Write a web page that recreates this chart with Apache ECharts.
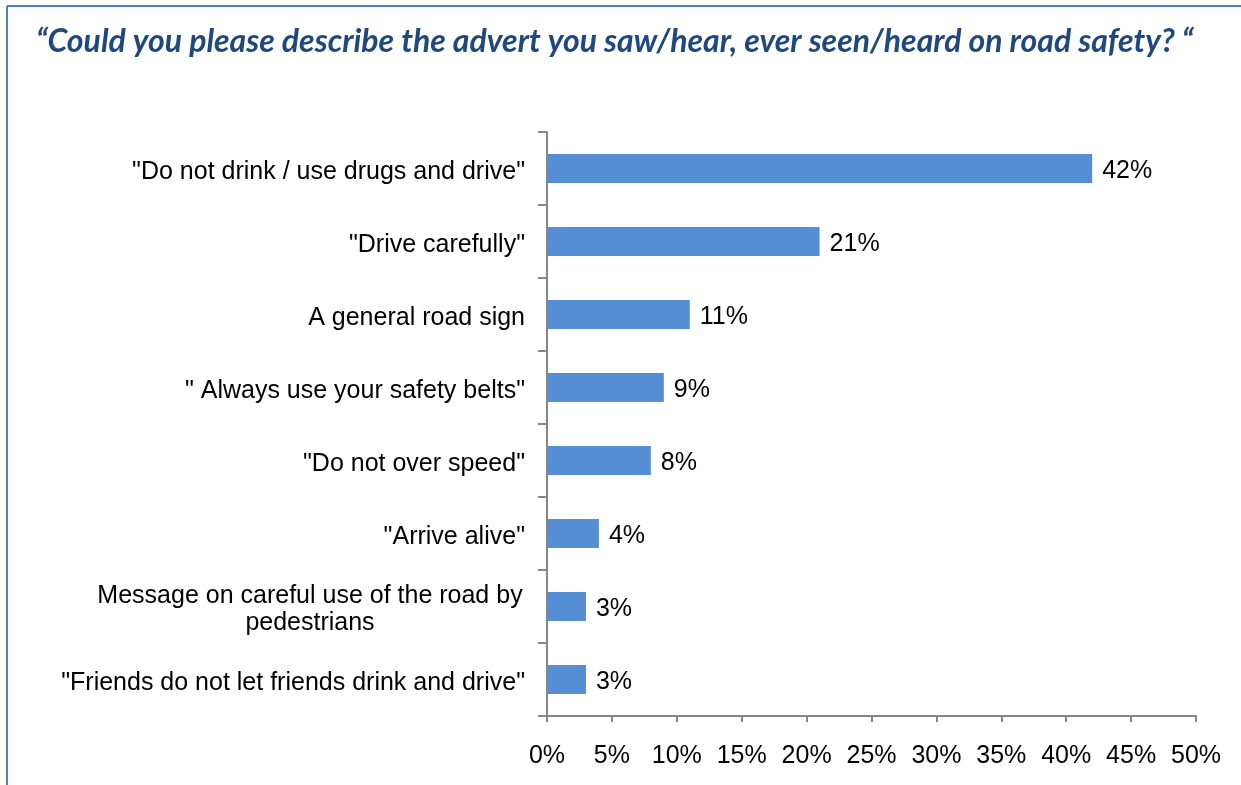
<!DOCTYPE html>
<html>
<head>
<meta charset="utf-8">
<script src="https://cdn.jsdelivr.net/npm/echarts@6/dist/echarts.min.js"></script>
<style>
  html, body { margin: 0; padding: 0; background: #ffffff; }
  #chart { width: 1241px; height: 785px; }
</style>
</head>
<body>
<div id="chart"></div>
<script>
// Survey answers, top to bottom
const categories = [
  '"Do not drink / use drugs and drive"',
  '"Drive carefully"',
  'A general road sign',
  '" Always use your safety belts"',
  '"Do not over speed"',
  '"Arrive alive"',
  'Message on careful use of the road by\npedestrians',
  '"Friends do not let friends drink and drive"'
];
const shares = [42, 21, 11, 9, 8, 4, 3, 3];
const titleText = '\u201CCould you please describe the advert you saw/hear, ever seen/heard on road safety? \u201C';

const chart = echarts.init(document.getElementById('chart'), null, { renderer: 'canvas' });
const axisGrey = '#868686';
const frameBlue = '#4f81bd';
const labelFont = 'Liberation Sans, Arial, sans-serif';

chart.setOption({
  animation: false,
  backgroundColor: '#ffffff',
  title: {
    text: titleText,
    left: 31,
    top: 21,
    textStyle: {
      fontFamily: 'Lato',
      fontStyle: 'italic',
      fontWeight: 'bold',
      fontSize: 32,
      color: '#1f497d'
    }
  },
  graphic: [
    { type: 'line', shape: { x1: 7, y1: 6, x2: 1241, y2: 6 }, style: { stroke: frameBlue, lineWidth: 2 } },
    { type: 'line', shape: { x1: 7, y1: 6, x2: 7, y2: 785 }, style: { stroke: frameBlue, lineWidth: 2 } }
  ],
  grid: { left: 547, right: 45, top: 132, bottom: 69, containLabel: false },
  xAxis: {
    type: 'value',
    min: 0,
    max: 50,
    interval: 5,
    axisLine: { show: true, lineStyle: { color: axisGrey, width: 2 } },
    axisTick: { show: true, length: 6, lineStyle: { color: axisGrey, width: 2 } },
    splitLine: { show: false },
    axisLabel: {
      formatter: '{value}%',
      margin: 28,
      fontFamily: labelFont,
      fontSize: 25,
      color: '#000000'
    }
  },
  yAxis: {
    type: 'category',
    inverse: true,
    data: categories,
    axisLine: { show: true, lineStyle: { color: axisGrey, width: 2 } },
    axisTick: { show: true, length: 9, lineStyle: { color: axisGrey, width: 2 } },
    axisLabel: {
      margin: 22,
      padding: [7, 0, 0, 0],
      fontFamily: labelFont,
      fontSize: 25,
      color: '#000000',
      lineHeight: 27,
      // two-line answers are centred line by line
      formatter: function (v) {
        if (v.indexOf('\n') < 0) return v;
        return v.split('\n').map(function (s) { return '{c|' + s + '}'; }).join('\n');
      },
      rich: {
        c: {
          width: 430,
          align: 'center',
          fontFamily: labelFont,
          fontSize: 25,
          lineHeight: 27,
          color: '#000000'
        }
      }
    }
  },
  series: [{
    type: 'bar',
    data: shares,
    barWidth: 29,
    itemStyle: { color: '#558ed5' },
    label: {
      show: true,
      position: 'right',
      distance: 10,
      offset: [0, 3],
      formatter: '{c}%',
      fontFamily: labelFont,
      fontSize: 25,
      color: '#000000'
    }
  }]
});
</script>
</body>
</html>
